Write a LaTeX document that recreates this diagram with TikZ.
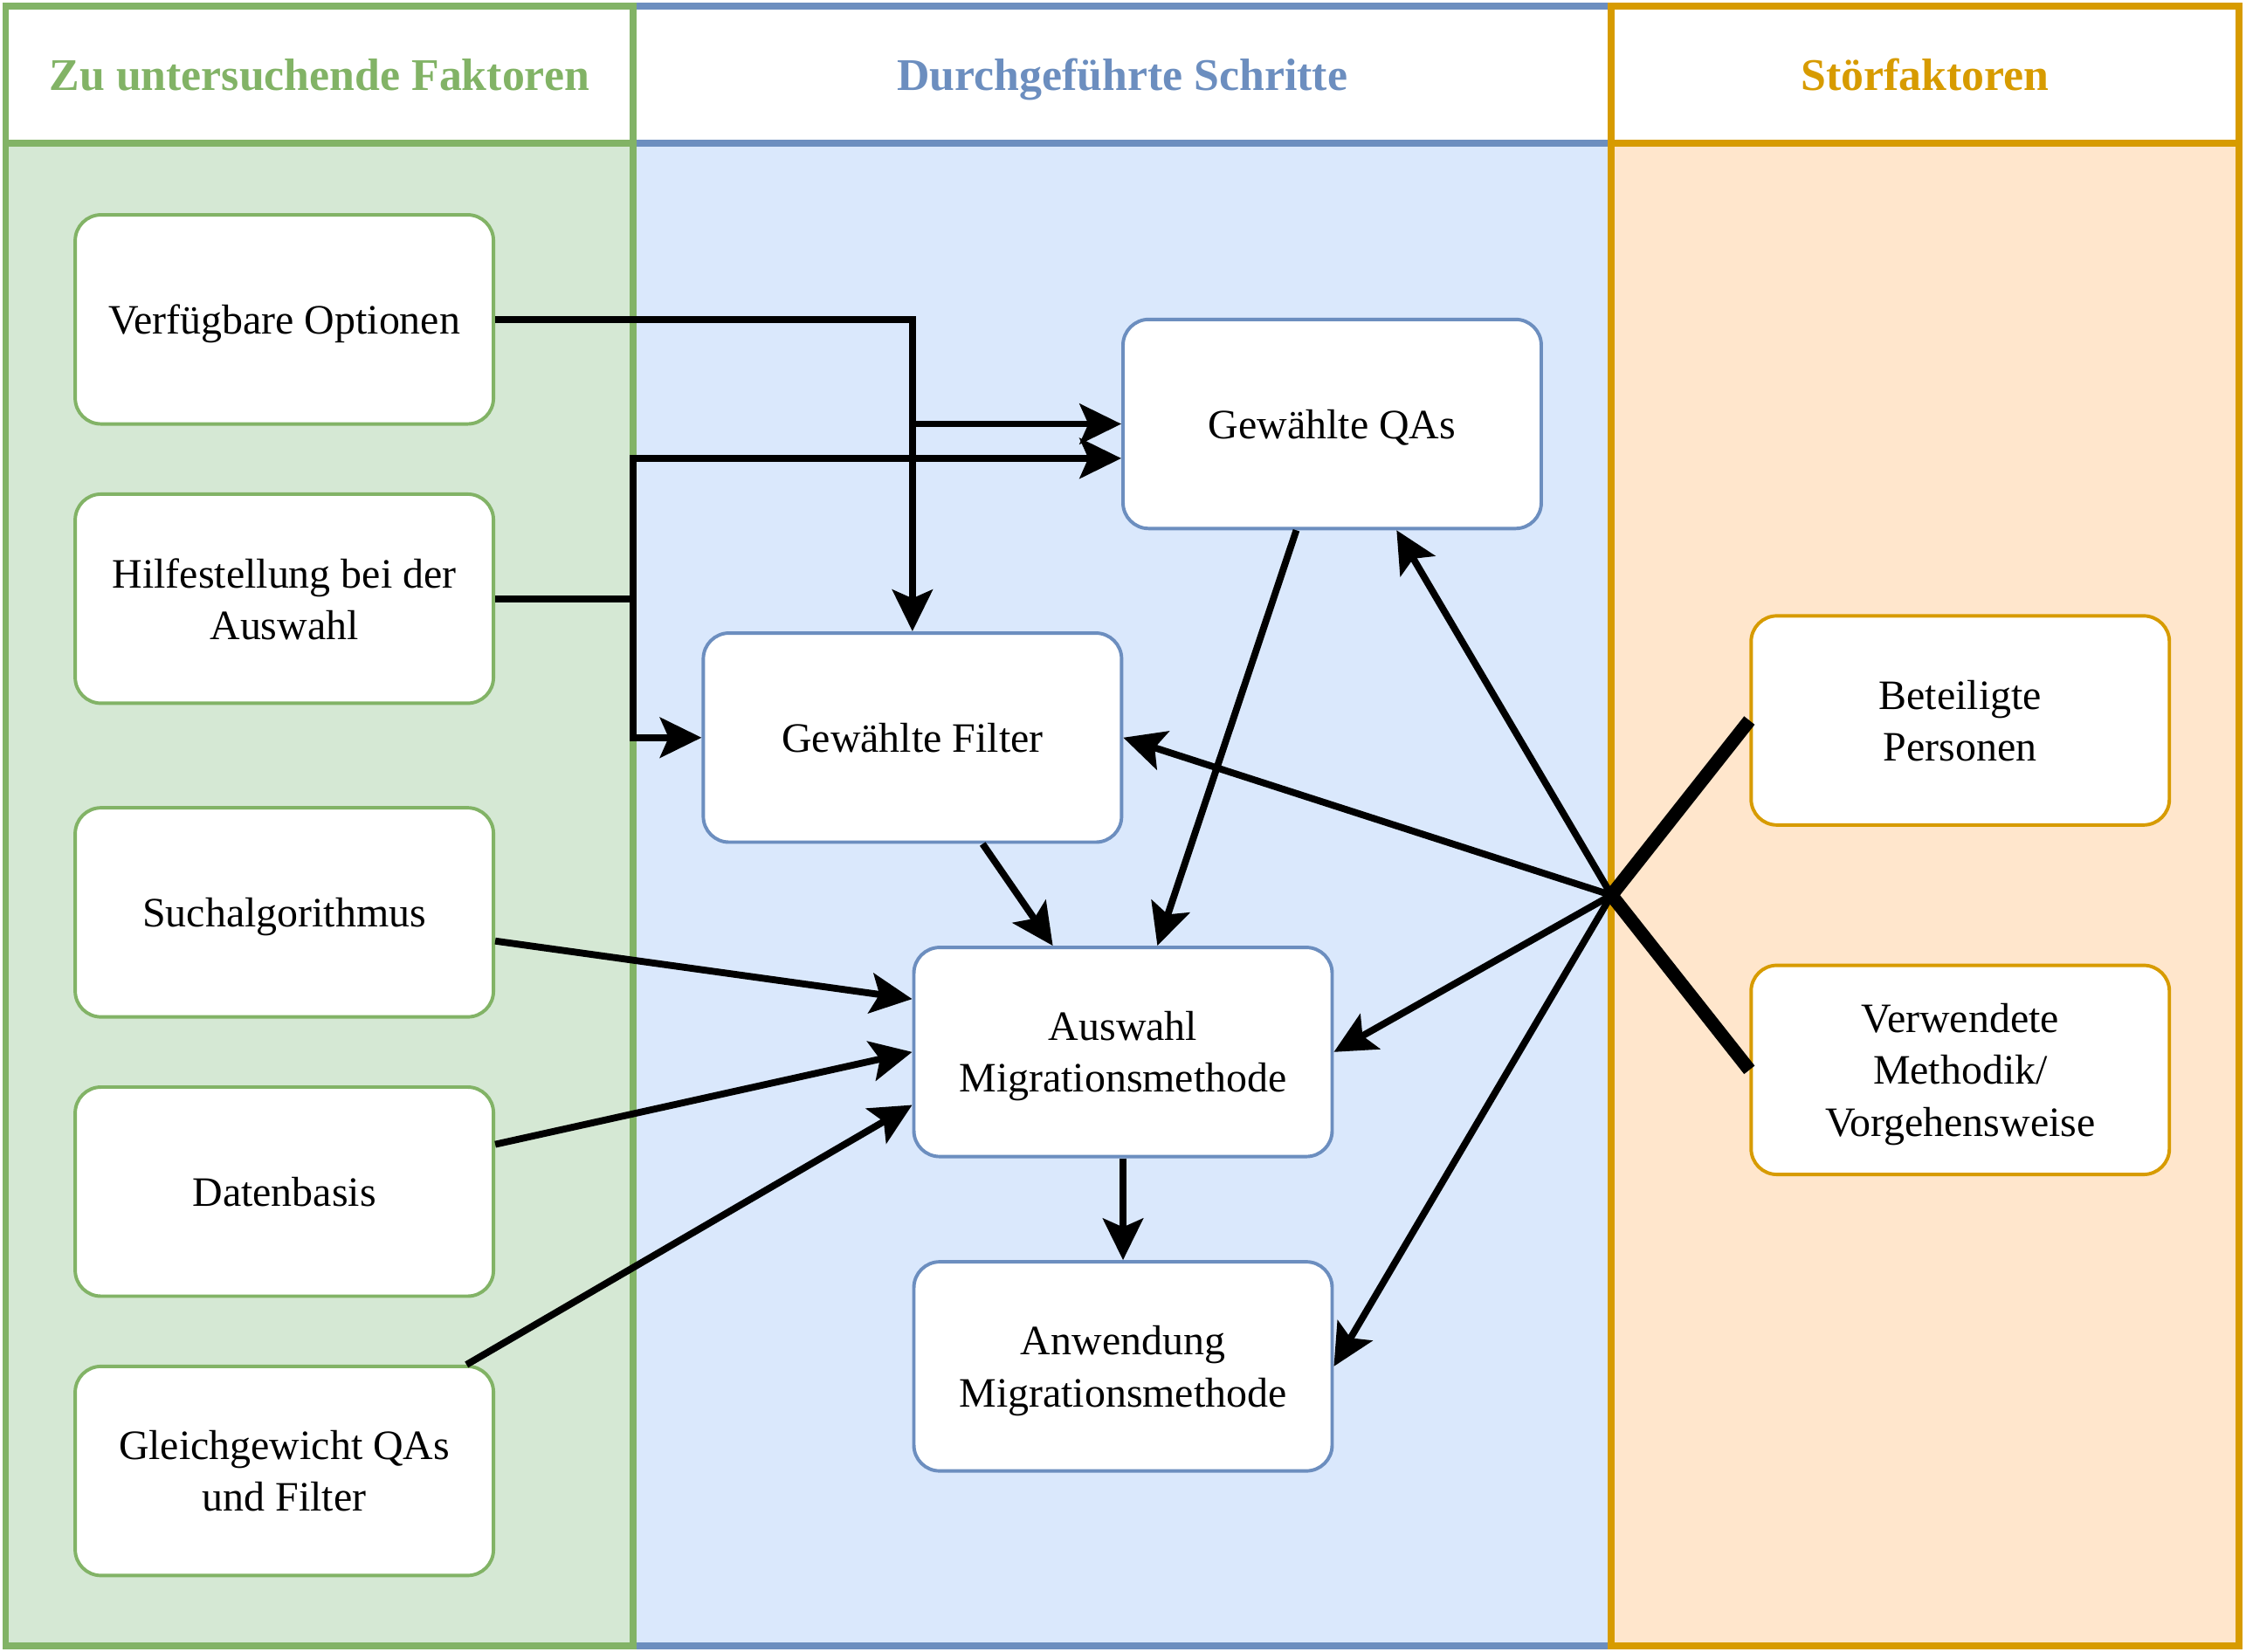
\documentclass[tikz,border=0pt]{standalone}
\usepackage{fontspec}
\setmainfont{Liberation Serif}
\usepackage{amsmath}
\usetikzlibrary{arrows.meta,calc}

\definecolor{greenfill}{HTML}{D5E8D4}
\definecolor{greenline}{HTML}{82B366}
\definecolor{bluefill}{HTML}{DAE8FC}
\definecolor{blueline}{HTML}{6C8EBF}
\definecolor{orangefill}{HTML}{FFE6CC}
\definecolor{orangeline}{HTML}{D79B00}

\begin{document}
\begin{tikzpicture}[x=0.5pt,y=-0.5pt]


\tikzset{
  LaneStyle/.style = { line width = 2.4pt },
  HeadStyle/.style = { font = \fontsize{15.8}{19}\selectfont\bfseries,
                       text depth = 0pt },
  BoxStyle/.style = { rectangle, rounded corners = 9pt, draw, fill = white,
                      line width = 1.2pt, minimum width = 146pt,
                      minimum height = 73pt, align = center, text depth = 0pt,
                      font = \fontsize{14.6}{18}\selectfont },
  EdgeStyle/.style = { line width = 2.4pt,
                       -{Stealth[length = 14.5pt, width = 14pt, inset = 3pt]} },
  HubStyle/.style = { line width = 4.7pt } }
  \useasboundingbox (0,0) rectangle (1568,1153);

  \fill[bluefill] (442,100) rectangle (1125,1149);
  \draw[LaneStyle, blueline] (442,4) rectangle (1125,1149) (442,100) -- (1125,100);
  \fill[greenfill] (4,100) rectangle (442,1149);
  \draw[LaneStyle, greenline] (4,4) rectangle (442,1149) (4,100) -- (442,100);
  \fill[orangefill] (1125,100) rectangle (1563,1149);
  \draw[LaneStyle, orangeline] (1125,4) rectangle (1563,1149) (1125,100) -- (1563,100);

  \node[HeadStyle, text=greenline] (h1) at (223, 52) {Zu untersuchende Faktoren};
  \node[HeadStyle, text=blueline] (h2) at (783.5, 52) {Durchgeführte Schritte};
  \node[HeadStyle, text=orangeline] (h3) at (1344, 52) {Störfaktoren};

  \node[BoxStyle, draw=greenline] (f1) at (198.5, 223) {Verfügbare Optionen};
  \node[BoxStyle, draw=greenline] (f2) at (198.5, 418) {Hilfestellung bei der\\Auswahl};
  \node[BoxStyle, draw=greenline] (f3) at (198.5, 637) {Suchalgorithmus};
  \node[BoxStyle, draw=greenline] (f4) at (198.5, 832) {Datenbasis};
  \node[BoxStyle, draw=greenline] (f5) at (198.5, 1027) {Gleichgewicht QAs\\und Filter};

  \node[BoxStyle, draw=blueline] (s1) at (930, 296) {Gewählte QAs};
  \node[BoxStyle, draw=blueline] (s2) at (637, 515) {Gewählte Filter};
  \node[BoxStyle, draw=blueline] (s3) at (784, 734.5) {Auswahl\\Migrationsmethode};
  \node[BoxStyle, draw=blueline] (s4) at (784, 954) {Anwendung\\Migrationsmethode};

  \node[BoxStyle, draw=orangeline] (d1) at (1368.5, 503) {Beteiligte\\Personen};
  \node[BoxStyle, draw=orangeline] (d2) at (1368.5, 747) {Verwendete\\Methodik/\\Vorgehensweise};

  \coordinate (split) at (442, 418);
  \coordinate (hub) at (1125, 625);

  \draw[EdgeStyle] (f1.east) -| (s2.north);
  \draw[EdgeStyle] (f1.east) -| (s2.north |- s1.west) -- (s1.west);
  \draw[EdgeStyle] (f2.east) -- (split) |- ($(s1.west)+(0,24)$);
  \draw[EdgeStyle] (f2.east) -- (split) |- (s2.west);
  \draw[EdgeStyle] ($(f3.east)+(0,20)$) -- ($(s3.west)+(0,-37)$);
  \draw[EdgeStyle] ($(f4.east)+(0,-33)$) -- (s3.west);
  \draw[EdgeStyle] ($(f5.north east)+(-20,0)$) -- ($(s3.west)+(0,37)$);
  \draw[EdgeStyle] ($(s2.south)+(49,0)$) -- ($(s3.north)+(-49,0)$);
  \draw[EdgeStyle] ($(s1.south)+(-25,0)$) -- ($(s3.north)+(24,0)$);
  \draw[EdgeStyle] (s3.south) -- (s4.north);

  \draw[HubStyle] (d1.west) -- (hub);
  \draw[HubStyle] (d2.west) -- (hub);
  \draw[EdgeStyle] (hub) -- ($(s1.south)+(45,0)$);
  \draw[EdgeStyle] (hub) -- (s2.east);
  \draw[EdgeStyle] (hub) -- (s3.east);
  \draw[EdgeStyle] (hub) -- (s4.east);

\end{tikzpicture}
\end{document}
